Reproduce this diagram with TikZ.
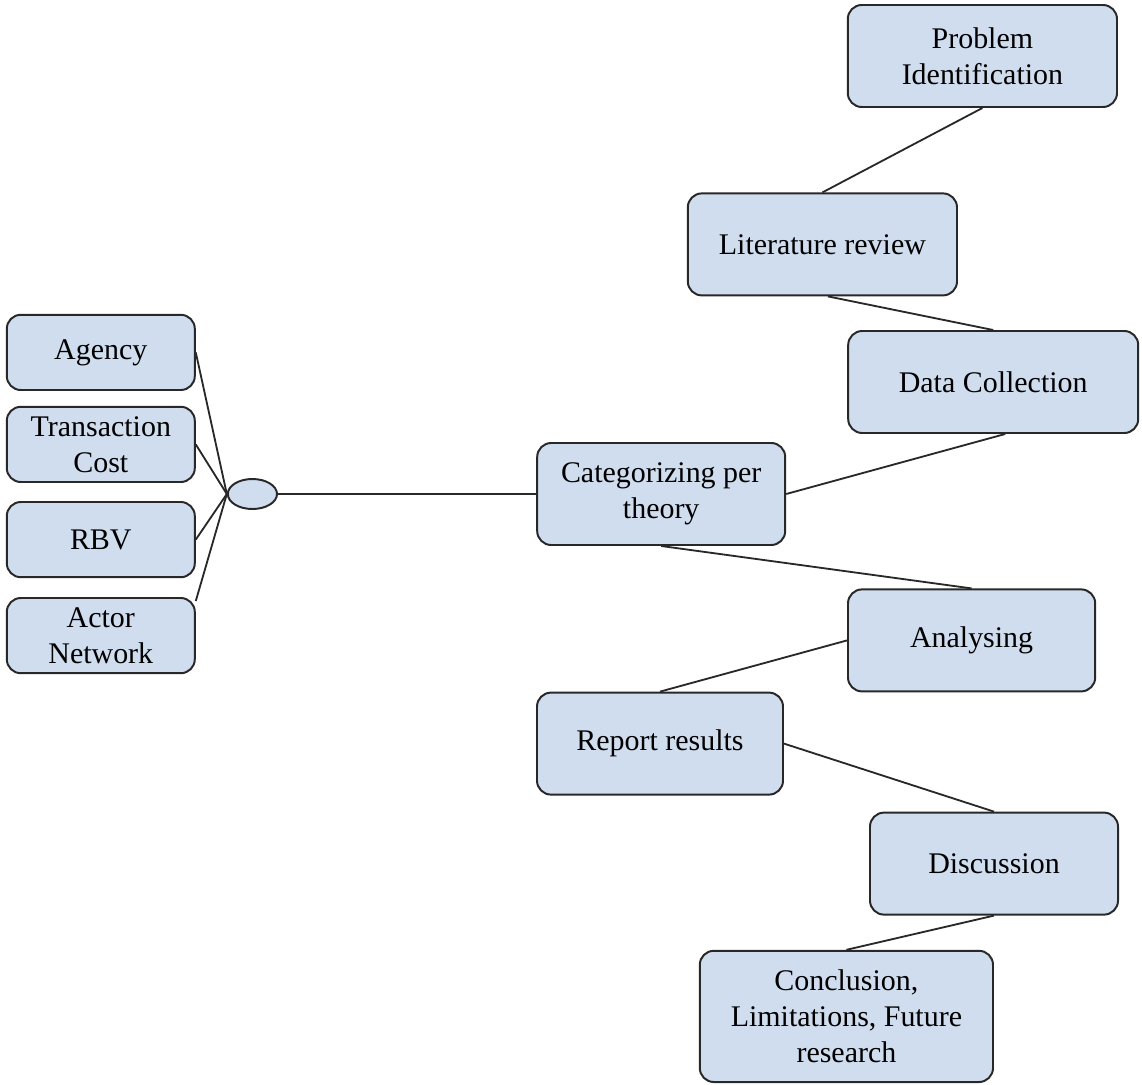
\documentclass[tikz,border=0pt]{standalone}
\usepackage{fontspec}
\setmainfont{Liberation Serif}
\usetikzlibrary{shapes.geometric}

\definecolor{boxblue}{RGB}{207,221,238}
\definecolor{edgegray}{RGB}{40,40,40}

\begin{document}
\begin{tikzpicture}[
		stage/.style = {draw = edgegray, line width = 1.4pt, fill = boxblue, rounded corners = 0.35cm, align = center, inner sep = 0pt, minimum height = 2.55cm, font = \fontsize{21.3}{25.5}\selectfont},
		theory/.style = {stage, minimum width = 4.7cm, minimum height = 1.88cm},
		link/.style = {draw = edgegray, line width = 1.3pt}
	]
		%canvas
		\useasboundingbox (0,0) rectangle (28.55,-27.1);
		
		%stages of the study
		\node [stage, minimum width = 6.73cm] (problem) at (24.56,-1.40) {Problem\\Identification};
		\node [stage, minimum width = 6.73cm] (literature) at (20.56,-6.11) {Literature review};
		\node [stage, minimum width = 7.25cm] (collection) at (24.83,-9.55) {Data Collection};
		\node [stage, minimum width = 6.2cm] (categorizing) at (16.53,-12.35) {Categorizing per\\theory};
		\node [stage, minimum width = 6.18cm] (analysing) at (24.29,-16.01) {Analysing};
		\node [stage, minimum width = 6.15cm] (report) at (16.5,-18.59) {Report results};
		\node [stage, minimum width = 6.2cm] (discussion) at (24.85,-21.59) {Discussion};
		\node [stage, minimum width = 7.33cm, minimum height = 3.28cm] (conclusion) at (21.16,-25.41) {Conclusion,\\Limitations, Future\\research};
		
		%theories
		\node [theory] (agency) at (2.52,-8.81) {Agency};
		\node [theory] (transaction) at (2.52,-11.11) {Transaction\\Cost};
		\node [theory] (rbv) at (2.52,-13.49) {RBV};
		\node [theory] (actor) at (2.52,-15.89) {Actor\\Network};
		
		%junction
		\node [ellipse, draw = edgegray, line width = 1.4pt, fill = boxblue, inner sep = 0pt, minimum width = 1.23cm, minimum height = 0.75cm] (hub) at (6.31,-12.35) {};
		
		%connections
		\draw [link] (agency.east) -- (hub.west);
		\draw [link] (transaction.east) -- (hub.west);
		\draw [link] (rbv.east) -- (hub.west);
		\draw [link] (actor.20) -- (hub.west);
		\draw [link] (hub.east) -- (categorizing.west);
		
		\draw [link] (problem.south) -- (literature.north);
		\draw [link] (literature.-84) -- (collection.north);
		\draw [link] (collection.-77) -- (categorizing.east);
		\draw [link] (categorizing.south) -- (analysing.north);
		\draw [link] (analysing.west) -- (report.north);
		\draw [link] (report.east) -- (discussion.north);
		\draw [link] (discussion.south) -- (conclusion.north);
	\end{tikzpicture}
\end{document}
